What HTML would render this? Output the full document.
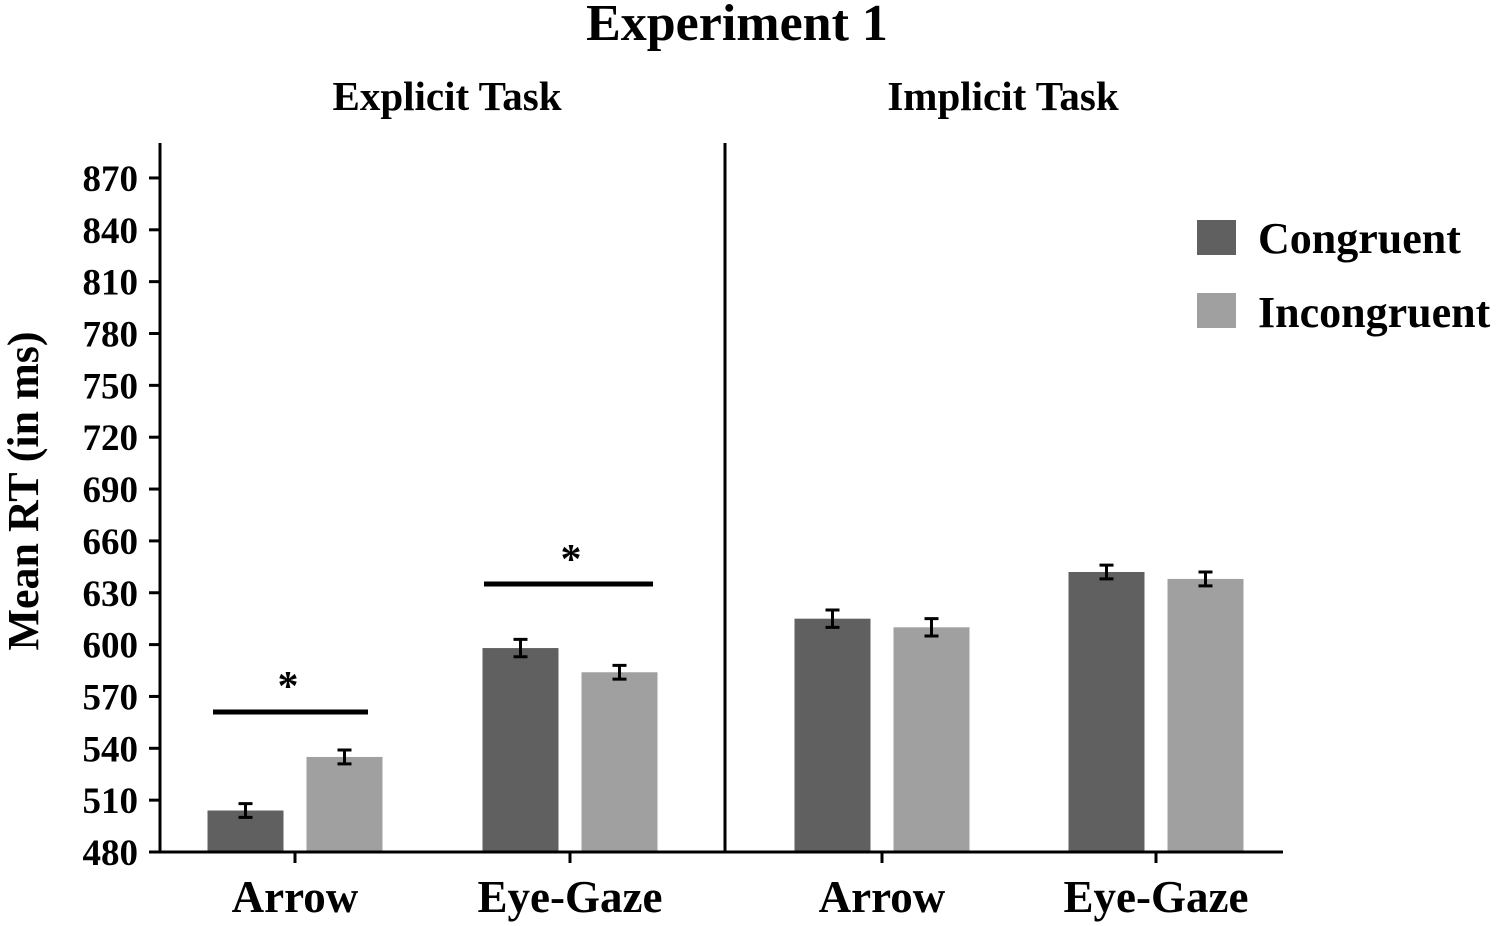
<!DOCTYPE html>
<html><head><meta charset="utf-8"><style>
html,body{margin:0;padding:0;background:#fff}
svg{display:block;font-family:"Liberation Serif",serif;font-weight:bold}
</style></head><body>
<svg id="chart" width="1498" height="926" viewBox="0 0 1498 926" xmlns="http://www.w3.org/2000/svg">
<text x="737" y="40" font-size="52" text-anchor="middle">Experiment 1</text>
<text x="447" y="110" font-size="41" text-anchor="middle">Explicit Task</text>
<text x="1003" y="110" font-size="41" text-anchor="middle">Implicit Task</text>
<text transform="translate(38,491) rotate(-90)" font-size="44" text-anchor="middle">Mean RT (in ms)</text>
<g id="yaxis"></g>
<g id="bars"></g>
<g id="xaxis"></g>
<line x1="725" y1="143" x2="725" y2="852" stroke="#000" stroke-width="3"/>
<g>
<line x1="213" y1="712" x2="368" y2="712" stroke="#000" stroke-width="5"/>
<text x="288" y="700" font-size="42" text-anchor="middle">*</text></g>
<g>
<line x1="484" y1="584" x2="653" y2="584" stroke="#000" stroke-width="5"/>
<text x="571" y="573" font-size="42" text-anchor="middle">*</text></g>
<g>
<rect x="1197" y="220" width="39" height="35" fill="#606060"/>
<text x="1258" y="253" font-size="44">Congruent</text>
<rect x="1197" y="293" width="39" height="35" fill="#a0a0a0"/>
<text x="1258" y="327" font-size="44">Incongruent</text>
</g>
</svg>
<script>
const yTicks=[480,510,540,570,600,630,660,690,720,750,780,810,840,870];
const groups=["Arrow","Eye-Gaze","Arrow","Eye-Gaze"];
const congruent=[504,598,615,642];
const incongruent=[535,584,610,638];
const congruentErr=[4,5,5,4];
const incongruentErr=[4,4,5,4];
const NS="http://www.w3.org/2000/svg";
const y0=852,yPer=51.85/30;
function y(v){return y0-(v-480)*yPer;}
const groupCenters=[295,570,882,1156];
function mk(tag,attrs,parent){const e=document.createElementNS(NS,tag);for(const k in attrs)e.setAttribute(k,attrs[k]);parent.appendChild(e);return e;}
const ya=document.getElementById('yaxis'),xa=document.getElementById('xaxis'),bg=document.getElementById('bars');
mk('line',{x1:160,y1:143,x2:160,y2:853.5,stroke:'#000','stroke-width':3},ya);
yTicks.forEach(t=>{
 const l=mk('line',{x1:149,y1:y(t),x2:160,y2:y(t),stroke:'#000','stroke-width':3},ya);
 
 
 const tx=mk('text',{x:138,y:y(t)+13,'font-size':37,'text-anchor':'end'},ya);
 tx.textContent=t;
 
 
});
mk('line',{x1:158.5,y1:852,x2:1283,y2:852,stroke:'#000','stroke-width':3},xa);
groups.forEach((g,i)=>{
 const c=groupCenters[i];
 const l=mk('line',{x1:c,y1:852,x2:c,y2:863,stroke:'#000','stroke-width':3},xa);
 
 
 const tx=mk('text',{x:c,y:912,'font-size':45,'text-anchor':'middle'},xa);
 tx.textContent=g;
 
 
 [[congruent,congruentErr,'#606060',-49.5],[incongruent,incongruentErr,'#a0a0a0',49.5]].forEach(([vals,errs,col,off],s)=>{
  const cx=c+off,v=vals[i],e=errs[i];
  const r=mk('rect',{x:cx-38,y:y(v),width:76,height:y0-y(v),fill:col},bg);
  
  
  const eb=mk('path',{d:`M${cx-7},${y(v+e)}H${cx+7}M${cx},${y(v+e)}V${y(v-e)}M${cx-7},${y(v-e)}H${cx+7}`,stroke:'#000','stroke-width':3,fill:'none'},bg);
  
  
 });
});
</script>
</body></html>
